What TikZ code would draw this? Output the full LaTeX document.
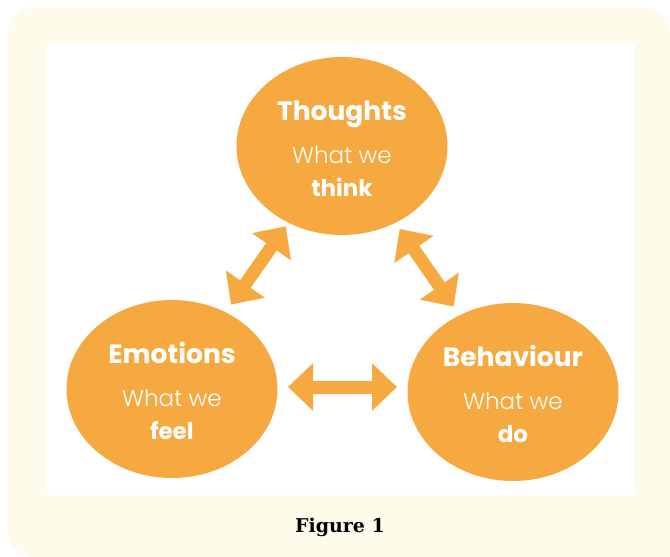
\documentclass[tikz,border=0pt]{standalone}
\usepackage{fontspec}
\newfontfamily\headfont{Poppins}
\newfontfamily\lightfont{Poppins Light}
\newfontfamily\capfont{DejaVu Serif}
\usepackage{tikz}
\usetikzlibrary{shapes.geometric,arrows.meta,positioning}

\definecolor{cbtorange}{HTML}{F5A940}
\definecolor{cardcream}{HTML}{FEFBEB}

\tikzset{
  bubble/.style={ellipse, fill=cbtorange, minimum width=211pt, minimum height=178pt, inner sep=0pt},
  headtext/.style={anchor=base, white, font=\headfont\bfseries\fontsize{26.5}{30}\selectfont},
  whattext/.style={anchor=base, white, font=\lightfont\fontsize{23}{27}\selectfont},
  verbtext/.style={anchor=base, white, font=\headfont\bfseries\fontsize{23}{27}\selectfont},
  linkarrow/.style={cbtorange, line width=13pt, {Triangle[length=25pt,width=46pt]}-{Triangle[length=25pt,width=46pt]}}
}

\begin{document}
\begin{tikzpicture}[x=1pt,y=-1pt]
    \useasboundingbox (0,0) rectangle (670,557);

    % card and white panel
    \fill[cardcream, rounded corners=26pt] (8,7) rectangle (670,557);
    \fill[cardcream] (600,500) rectangle (670,557);
    \fill[white] (47,43) rectangle (635,495);

    % the three circles
    \node[bubble] (thoughts) at (342,146) {};
    \node[bubble] (emotions) at (172,389) {};
    \node[bubble] (behaviour) at (513,392) {};

    % texts in the circles
    \node[headtext] (thoughts-head) at ([yshift=26pt]thoughts.center) {Thoughts};
    \node[whattext] (thoughts-what) at ([yshift=-17pt]thoughts.center) {What we};
    \node[verbtext] (thoughts-verb) at ([yshift=-50pt]thoughts.center) {think};

    \node[headtext] (emotions-head) at ([yshift=26pt]emotions.center) {Emotions};
    \node[whattext] (emotions-what) at ([yshift=-17pt]emotions.center) {What we};
    \node[verbtext] (emotions-verb) at ([yshift=-50pt]emotions.center) {feel};

    \node[headtext] (behaviour-head) at ([yshift=26pt]behaviour.center) {Behaviour};
    \node[whattext] (behaviour-what) at ([yshift=-17pt]behaviour.center) {What we};
    \node[verbtext] (behaviour-verb) at ([yshift=-50pt]behaviour.center) {do};

    % arrows between the circles
    \draw[linkarrow, shorten <=103pt, shorten >=98pt] (emotions.center) -- (thoughts.center);
    \draw[linkarrow, shorten <=101pt, shorten >=104pt] (thoughts.center) -- (behaviour.center);
    \draw[linkarrow, shorten <=116pt, shorten >=116pt] ([yshift=2pt]emotions.center) -- ([yshift=2pt]emotions.center -| behaviour.center);

    % caption
    \node[anchor=base, font=\capfont\bfseries\fontsize{19}{23}\selectfont] (caption) at (340,532) {Figure 1};
\end{tikzpicture}
\end{document}
